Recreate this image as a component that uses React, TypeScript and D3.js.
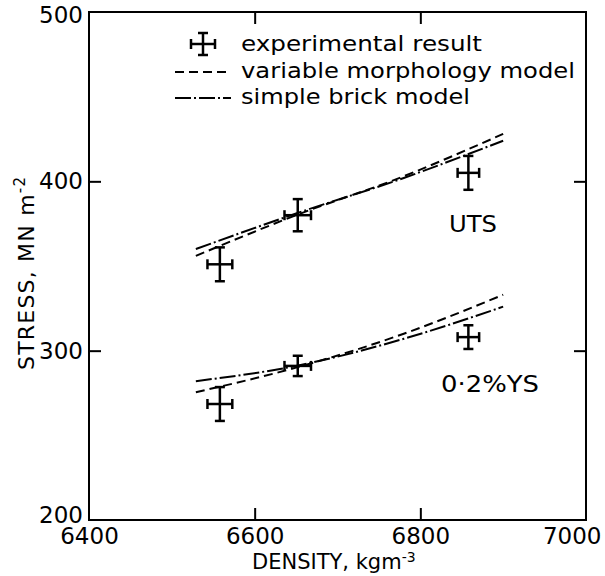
import React, { useEffect, useRef } from "react";
import * as d3 from "d3";

// experimental points (density, stress, x error, y error)
const utsPoints = [
  { d: 6558, s: 351, dx: 15, ds: 10 },
  { d: 6652, s: 380, dx: 16, ds: 9.5 },
  { d: 6858, s: 405, dx: 13, ds: 10 },
];
const ysPoints = [
  { d: 6558, s: 268.5, dx: 15, ds: 10 },
  { d: 6652, s: 291, dx: 16, ds: 6 },
  { d: 6858, s: 308, dx: 13, ds: 7 },
];

// model curves
const utsVariable = [
  { d: 6529, s: 356 },
  { d: 6650, s: 380 },
  { d: 6780, s: 403 },
  { d: 6900, s: 428 },
];
const utsBrick = [
  { d: 6529, s: 360 },
  { d: 6650, s: 381 },
  { d: 6780, s: 402 },
  { d: 6900, s: 424 },
];
const ysVariable = [
  { d: 6529, s: 275.5 },
  { d: 6650, s: 290 },
  { d: 6780, s: 310 },
  { d: 6900, s: 333 },
];
const ysBrick = [
  { d: 6529, s: 282 },
  { d: 6650, s: 291 },
  { d: 6780, s: 307 },
  { d: 6900, s: 326 },
];

const xTicks = [6400, 6600, 6800, 7000];
const yTicks = [200, 300, 400, 500];
const innerXTicks = [6600, 6800];
const innerYTicks = [300, 400];

const legendItems = ["experimental result", "variable morphology model", "simple brick model"];
const legendWidths = [241, 334, 229];

const FONT = "DejaVu Sans";
const DASH = "9,5";
const DASHDOT = "16,3,2,3";

export default function App() {
  const ref = useRef<SVGSVGElement>(null);

  useEffect(() => {
    const width = 605;
    const height = 576;
    const left = 89, right = 586, top = 12, bottom = 520;

    const svg = d3.select(ref.current);
    svg.selectAll("*").remove();

    const x = d3.scaleLinear().domain([6400, 7000]).range([left, right]);
    const y = d3.scaleLinear().domain([200, 500]).range([bottom, top]);

    // frame
    svg.append("rect")
      .attr("x", left).attr("y", top)
      .attr("width", right - left).attr("height", bottom - top)
      .attr("fill", "none").attr("stroke", "#000").attr("stroke-width", 2);

    // inner ticks on all four sides
    const tickLen = 12;
    const addAxis = (axis: any, transform: string) => {
      const g = svg.append("g").attr("transform", transform).call(axis);
      g.select(".domain").remove();
      g.selectAll("line").attr("stroke", "#000").attr("stroke-width", 2);
      return g;
    };
    addAxis(d3.axisBottom(x).tickValues(innerXTicks).tickSize(-tickLen).tickFormat(() => ""), `translate(0,${bottom})`);
    addAxis(d3.axisTop(x).tickValues(innerXTicks).tickSize(-tickLen).tickFormat(() => ""), `translate(0,${top})`);
    addAxis(d3.axisLeft(y).tickValues(innerYTicks).tickSize(-tickLen).tickFormat(() => ""), `translate(${left},0)`);
    addAxis(d3.axisRight(y).tickValues(innerYTicks).tickSize(-tickLen).tickFormat(() => ""), `translate(${right},0)`);

    // tick labels
    const xl = addAxis(d3.axisBottom(x).tickValues(xTicks).tickSize(0).tickPadding(8).tickFormat(d3.format("d")), `translate(0,${bottom})`);
    xl.selectAll("text").attr("font-family", FONT).attr("font-size", 23).attr("fill", "#000");
    // last label sits flush with the right edge, as in the original
    xl.selectAll("text").filter((d: any) => d === 7000).attr("text-anchor", "end").attr("x", 601 - right);
    const yl = addAxis(d3.axisLeft(y).tickValues(yTicks).tickSize(0).tickPadding(6).tickFormat(d3.format("d")), `translate(${left},0)`);
    yl.selectAll("text").attr("font-family", FONT).attr("font-size", 23).attr("fill", "#000");
    yl.selectAll("text").filter((d: any) => d === 500).attr("dy", "0.45em");
    yl.selectAll("text").filter((d: any) => d === 200).attr("dy", "0.12em");

    // axis titles
    const xt = svg.append("text")
      .attr("x", 252).attr("y", 569)
      .attr("font-family", FONT).attr("font-size", 21).attr("fill", "#000");
    xt.append("tspan").text("DENSITY, kgm");
    xt.append("tspan").attr("dy", -7).attr("font-size", 14).text("-3");

    const yt = svg.append("text")
      .attr("transform", `translate(34,370) rotate(-90)`)
      .attr("font-family", FONT).attr("font-size", 22).attr("letter-spacing", 1.2).attr("fill", "#000");
    yt.append("tspan").text("STRESS, MN m");
    yt.append("tspan").attr("dy", -9).attr("font-size", 15).text("-2");

    // model lines
    const line = d3.line<{ d: number; s: number }>()
      .x(p => x(p.d))
      .y(p => y(p.s))
      .curve(d3.curveMonotoneX);
    const curves: [typeof utsVariable, string][] = [
      [utsVariable, DASH],
      [utsBrick, DASHDOT],
      [ysVariable, DASH],
      [ysBrick, DASHDOT],
    ];
    curves.forEach(([data, dash]) => {
      svg.append("path")
        .datum(data)
        .attr("fill", "none")
        .attr("stroke", "#000")
        .attr("stroke-width", 2)
        .attr("stroke-dasharray", dash)
        .attr("d", line);
    });

    // error crosses
    const cap = 5;
    const drawCross = (g: any, cx: number, cy: number, hx: number, hy: number) => {
      const seg = (x1: number, y1: number, x2: number, y2: number) =>
        g.append("line").attr("x1", x1).attr("y1", y1).attr("x2", x2).attr("y2", y2)
          .attr("stroke", "#000").attr("stroke-width", 2.5);
      seg(cx - hx, cy, cx + hx, cy);
      seg(cx, cy - hy, cx, cy + hy);
      seg(cx - hx, cy - cap, cx - hx, cy + cap);
      seg(cx + hx, cy - cap, cx + hx, cy + cap);
      seg(cx - cap, cy - hy, cx + cap, cy - hy);
      seg(cx - cap, cy + hy, cx + cap, cy + hy);
    };
    const pts = svg.append("g");
    [...utsPoints, ...ysPoints].forEach(p => {
      const cx = x(p.d), cy = y(p.s);
      drawCross(pts, cx, cy, x(p.d + p.dx) - cx, cy - y(p.s + p.ds));
    });

    // series labels
    svg.append("text").attr("x", 449).attr("y", 232)
      .attr("font-family", FONT).attr("font-size", 23).attr("fill", "#000")
      .attr("textLength", 48).attr("lengthAdjust", "spacingAndGlyphs").text("UTS");
    svg.append("text").attr("x", 441).attr("y", 392)
      .attr("font-family", FONT).attr("font-size", 23).attr("fill", "#000")
      .attr("textLength", 98).attr("lengthAdjust", "spacingAndGlyphs").text("0·2%YS");

    // legend
    const lg = svg.append("g");
    const lx0 = 175, lx1 = 231, tx = 241;
    const rows = [51, 78, 104];
    drawCross(lg, 203, rows[0] - 7, 12, 11);
    lg.append("line").attr("x1", lx0).attr("x2", lx1).attr("y1", rows[1] - 6).attr("y2", rows[1] - 6)
      .attr("stroke", "#000").attr("stroke-width", 2).attr("stroke-dasharray", DASH);
    lg.append("line").attr("x1", lx0).attr("x2", lx1).attr("y1", rows[2] - 6).attr("y2", rows[2] - 6)
      .attr("stroke", "#000").attr("stroke-width", 2).attr("stroke-dasharray", DASHDOT);
    legendItems.forEach((t, i) => {
      lg.append("text").attr("x", tx).attr("y", rows[i])
        .attr("font-family", FONT).attr("font-size", 22).attr("fill", "#000")
        .attr("textLength", legendWidths[i]).attr("lengthAdjust", "spacingAndGlyphs")
        .text(t);
    });

    svg.attr("width", width).attr("height", height);
  }, []);

  return (
    <svg
      ref={ref}
      width={605}
      height={576}
      style={{ position: "absolute", left: 0, top: 0, background: "#fff" }}
    />
  );
}
